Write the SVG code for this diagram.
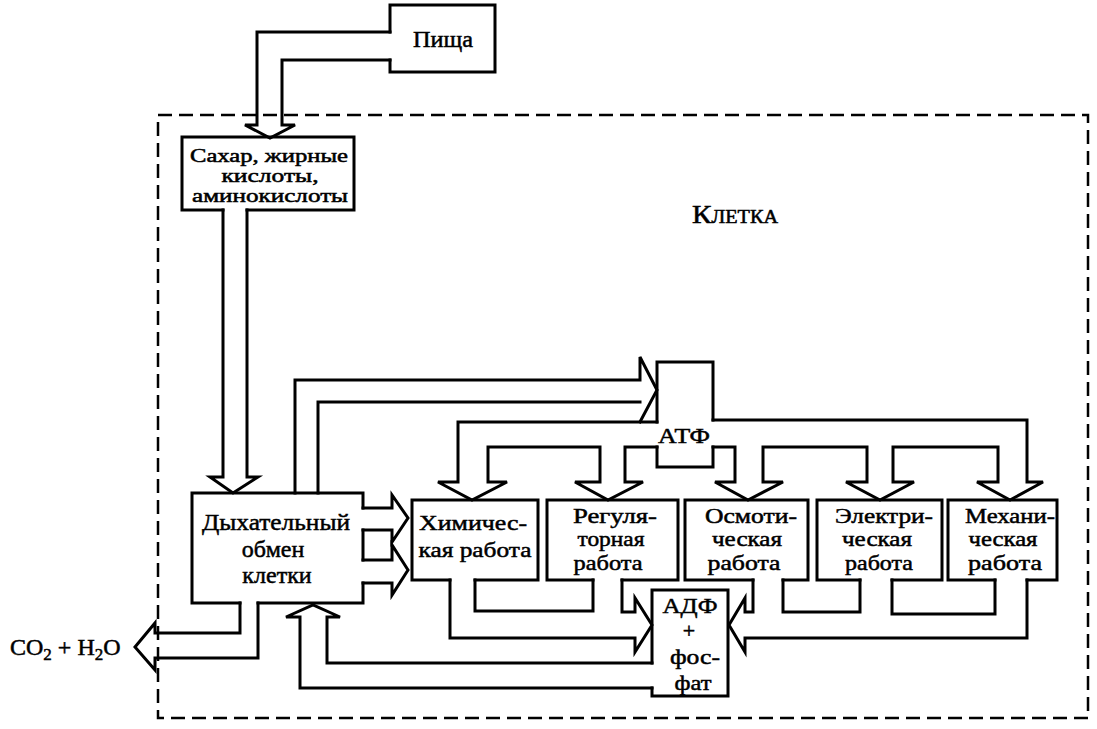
<svg xmlns="http://www.w3.org/2000/svg" width="1097" height="729" viewBox="0 0 1097 729">
<style>
  .ln { fill: none; stroke: #000; stroke-width: 3; stroke-linejoin: miter; stroke-linecap: square; }
  .dash { fill: none; stroke: #000; stroke-width: 2.5; stroke-dasharray: 14 7; }
  text { font-family: "Liberation Serif", "DejaVu Serif", serif; fill: #000; stroke: #000; stroke-width: 0.5; text-anchor: middle; }
  .st { text-anchor: start; }
  .t18 { font-size: 18px; }
  .t20 { font-size: 20px; }
  .t21 { font-size: 21px; }
  .t22 { font-size: 22px; }
  .t23 { font-size: 23px; }
  .t24 { font-size: 24px; }
  .sc { font-size: 26px; font-variant: small-caps; }
</style>
<rect width="1097" height="729" fill="#fff"/>

<g id="cell">
  <rect class="dash" x="158" y="115" width="930" height="603"/>
  <text class="sc" x="735" y="223" textLength="86" lengthAdjust="spacingAndGlyphs">Клетка</text>
</g>

<g id="connectors">
  <!-- food to sugars -->
  <path class="ln" d="M390,32 H257 V125 H245 L270,138 L295,125 H282 V60 H390"/>
  <!-- sugars to respiration -->
  <path class="ln" d="M223,210 V477 H210 L233,493 L258,477 H247 V210"/>
  <!-- respiration to ATP -->
  <path class="ln" d="M295,493 V380 H640 V357 L657,390 L640,422"/>
  <path class="ln" d="M318,493 V402 H640"/>
  <!-- respiration to chemical work -->
  <path class="ln" d="M363,508 H392 V495 L408,518 L392,542 V530 H363"/>
  <path class="ln" d="M363,560 H392 V545 L408,570 L392,595 V583 H363"/>
  <!-- ATP distribution -->
  <path class="ln" d="M713,420 H1027 V482 H1043 L1010,500 L977,482 H998 V447 H893 V482 H914 L880,500 L846,482 H867 V447 H763 V482 H783 L748,500 L715,482 H735 V447 H713"/>
  <path class="ln" d="M657,447 H625 V482 H643 L608,500 L575,482 H600 V447 H488 V482 H507 L472,500 L438,482 H458 V422 H657"/>
  <!-- work to ADP -->
  <path class="ln" d="M450,580 V638 H635 V652 L652,625 L635,598 V612 H622 V580"/>
  <path class="ln" d="M475,580 V611 H593 V580"/>
  <path class="ln" d="M1027,580 V638 H745 V652 L729,625 L745,598 V612 H753 V580"/>
  <path class="ln" d="M783,580 V612 H860 V580"/>
  <path class="ln" d="M892,580 V614 H995 V580"/>
  <!-- ADP back to respiration -->
  <path class="ln" d="M652,663 H327 V617 H340 L313,605 L286,617 H300 V688 H652"/>
  <!-- CO2 + H2O out -->
  <path class="ln" d="M240,603 V633 H155 V623 L135,647 L155,670 V658 H258 V603"/>
</g>

<g id="food">
  <path class="ln" d="M390,32 V5 H495 V72 H390 V60"/>
  <text class="t23" x="443" y="47" textLength="60" lengthAdjust="spacingAndGlyphs">Пища</text>
</g>

<g id="sugars">
  <path class="ln" d="M223,210 H182 V137 H354 V210 H247"/>
  <text class="t18" x="269" y="162" textLength="158" lengthAdjust="spacingAndGlyphs">Сахар, жирные</text>
  <text class="t18" x="270" y="182" textLength="97" lengthAdjust="spacingAndGlyphs">кислоты,</text>
  <text class="t18" x="270" y="202" textLength="156" lengthAdjust="spacingAndGlyphs">аминокислоты</text>
</g>

<g id="respiration">
  <path class="ln" d="M240,603 H192 V493 H363 V508 M363,530 V560 M363,583 V603 H258"/>
  <text class="t24" x="276" y="530" textLength="148" lengthAdjust="spacingAndGlyphs">Дыхательный</text>
  <text class="t24" x="273" y="557">обмен</text>
  <text class="t24" x="277" y="583">клетки</text>
</g>

<g id="atp">
  <path class="ln" d="M657,422 V362 H713 V420 M713,447 V467 H657 V447"/>
  <text class="t21" x="684" y="443" textLength="52" lengthAdjust="spacingAndGlyphs">АТФ</text>
</g>

<g id="chemical">
  <path class="ln" d="M450,580 H412 V500 H538 V580 H475"/>
  <text class="t22" x="473" y="530" textLength="108" lengthAdjust="spacingAndGlyphs">Химичес-</text>
  <text class="t22" x="475" y="557" textLength="113" lengthAdjust="spacingAndGlyphs">кая работа</text>
</g>

<g id="regulatory">
  <path class="ln" d="M593,580 H547 V500 H678 V580 H622"/>
  <text class="t21" x="615" y="523" textLength="84" lengthAdjust="spacingAndGlyphs">Регуля-</text>
  <text class="t21" x="611" y="546" textLength="67" lengthAdjust="spacingAndGlyphs">торная</text>
  <text class="t21" x="608" y="570" textLength="69" lengthAdjust="spacingAndGlyphs">работа</text>
</g>

<g id="osmotic">
  <path class="ln" d="M753,580 H685 V500 H808 V580 H783"/>
  <text class="t21" x="751" y="523" textLength="92" lengthAdjust="spacingAndGlyphs">Осмоти-</text>
  <text class="t21" x="747" y="546" textLength="70" lengthAdjust="spacingAndGlyphs">ческая</text>
  <text class="t21" x="744" y="570" textLength="73" lengthAdjust="spacingAndGlyphs">работа</text>
</g>

<g id="electric">
  <path class="ln" d="M860,580 H817 V500 H942 V580 H892"/>
  <text class="t21" x="884" y="523" textLength="98" lengthAdjust="spacingAndGlyphs">Электри-</text>
  <text class="t21" x="877" y="546" textLength="70" lengthAdjust="spacingAndGlyphs">ческая</text>
  <text class="t21" x="879" y="570" textLength="68" lengthAdjust="spacingAndGlyphs">работа</text>
</g>

<g id="mechanical">
  <path class="ln" d="M995,580 H948 V500 H1057 V580 H1027"/>
  <text class="t21" x="1010" y="523" textLength="90" lengthAdjust="spacingAndGlyphs">Механи-</text>
  <text class="t21" x="1003" y="546" textLength="69" lengthAdjust="spacingAndGlyphs">ческая</text>
  <text class="t21" x="1005" y="570" textLength="74" lengthAdjust="spacingAndGlyphs">работа</text>
</g>

<g id="adp">
  <path class="ln" d="M652,663 V590 H728 V696 H652 V688"/>
  <text class="t22" x="690" y="613" textLength="55" lengthAdjust="spacingAndGlyphs">АДФ</text>
  <text class="t22" x="689" y="638">+</text>
  <text class="t22" x="695" y="664" textLength="50" lengthAdjust="spacingAndGlyphs">фос-</text>
  <text class="t22" x="693" y="690" textLength="37" lengthAdjust="spacingAndGlyphs">фат</text>
</g>

<g id="co2">
  <text class="t24 st" x="10" y="655">CO<tspan font-size="17" dy="5">2</tspan><tspan dy="-5"> + H</tspan><tspan font-size="17" dy="5">2</tspan><tspan dy="-5">O</tspan></text>
</g>
</svg>
